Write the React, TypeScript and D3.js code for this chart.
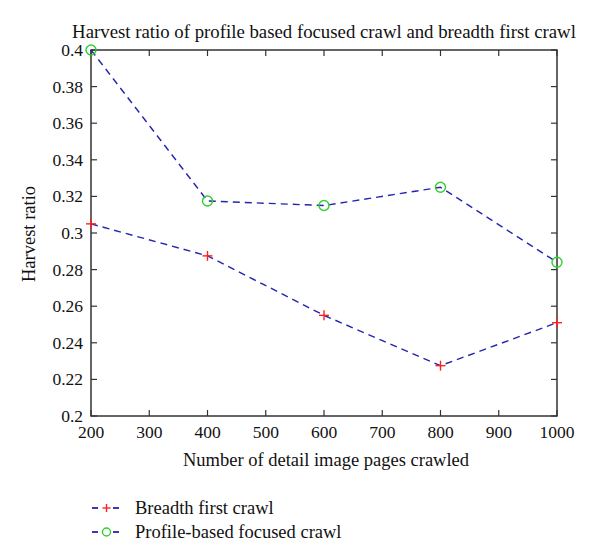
import React from "react";
import * as d3 from "d3";

const xValues = [200, 400, 600, 800, 1000];
const breadthFirst = [0.305, 0.2875, 0.255, 0.2275, 0.251];
const profileBased = [0.4, 0.3175, 0.315, 0.325, 0.284];
const xTicks = [200, 300, 400, 500, 600, 700, 800, 900, 1000];
const yTicks = [0.2, 0.22, 0.24, 0.26, 0.28, 0.3, 0.32, 0.34, 0.36, 0.38, 0.4];
const title = "Harvest ratio of profile based focused crawl and breadth first crawl";
const xLabel = "Number of detail image pages crawled";
const yLabel = "Harvest ratio";
const legendLabels = ["Breadth first crawl", "Profile-based focused crawl"];

const W = 600, H = 559;
const L = 91, R = 557, T = 50, B = 416;
const FONT = "'Liberation Serif', 'DejaVu Serif', serif";
const LINE = "#2424b0";
const AX = "#333";

export default function App() {
  const x = d3.scaleLinear().domain([200, 1000]).range([L, R]);
  const y = d3.scaleLinear().domain([0.2, 0.4]).range([B, T]);
  const line = d3.line<number>().x((_, i) => x(xValues[i])).y((d) => y(d));
  const fmt = (v: number) => String(+v.toFixed(2));
  const tl = 6;

  const plus = (cx: number, cy: number, k: string, s = 5) => (
    <g key={k} stroke="#ff2020" strokeWidth={1.4}>
      <line x1={cx - s} x2={cx + s} y1={cy} y2={cy} />
      <line x1={cx} x2={cx} y1={cy - s} y2={cy + s} />
    </g>
  );
  const circ = (cx: number, cy: number, k: string, r = 5) => (
    <circle key={k} cx={cx} cy={cy} r={r} fill="none" stroke="#30d030" strokeWidth={1.4} />
  );

  return (
    <svg width={W} height={H} style={{ position: "absolute", left: 0, top: 0, background: "#fff" }} fontFamily={FONT}>
      <rect x={0} y={0} width={W} height={H} fill="#fff" />
      <text x={324} y={38} textAnchor="middle" fontSize={18.8} fill="#111">{title}</text>
      <g stroke={AX} strokeWidth={1.2}>
        {xTicks.map((t) => (
          <g key={"xt" + t}>
            <line x1={x(t)} x2={x(t)} y1={B} y2={B - tl} />
            <line x1={x(t)} x2={x(t)} y1={T} y2={T + tl} />
          </g>
        ))}
        {yTicks.map((t) => (
          <g key={"yt" + t}>
            <line x1={L} x2={L + tl} y1={y(t)} y2={y(t)} />
            <line x1={R} x2={R - tl} y1={y(t)} y2={y(t)} />
          </g>
        ))}
      </g>
      <rect x={L} y={T} width={R - L} height={B - T} fill="none" stroke={AX} strokeWidth={1.5} />
      {xTicks.map((t) => (
        <text key={"xl" + t} x={x(t)} y={438} textAnchor="middle" fontSize={17.5} fill="#111">{t}</text>
      ))}
      {yTicks.map((t) => (
        <text key={"yl" + t} x={L - 8} y={y(t) + 6} textAnchor="end" fontSize={17.5} fill="#111">{fmt(t)}</text>
      ))}
      <text x={326} y={466} textAnchor="middle" fontSize={18.5} fill="#111">{xLabel}</text>
      <text transform={`translate(35, ${(T + B) / 2 + 1}) rotate(-90)`} textAnchor="middle" fontSize={18.5} fill="#111">{yLabel}</text>
      <path d={line(breadthFirst) || ""} fill="none" stroke={LINE} strokeWidth={1.4} strokeDasharray="7,5" />
      <path d={line(profileBased) || ""} fill="none" stroke={LINE} strokeWidth={1.4} strokeDasharray="7,5" />
      {breadthFirst.map((v, i) => plus(x(xValues[i]), y(v), "p" + i))}
      {profileBased.map((v, i) => circ(x(xValues[i]), y(v), "c" + i))}
      {legendLabels.map((lab, i) => {
        const ly = 508 + i * 24;
        return (
          <g key={"lg" + i}>
            <line x1={92} x2={98} y1={ly} y2={ly} stroke={LINE} strokeWidth={1.8} />
            <line x1={113} x2={119} y1={ly} y2={ly} stroke={LINE} strokeWidth={1.8} />
            {i === 0 ? plus(106.5, ly, "lp", 4) : circ(106.5, ly, "lc", 4)}
            <text x={135} y={ly + 6} fontSize={18.5} fill="#111">{lab}</text>
          </g>
        );
      })}
    </svg>
  );
}
